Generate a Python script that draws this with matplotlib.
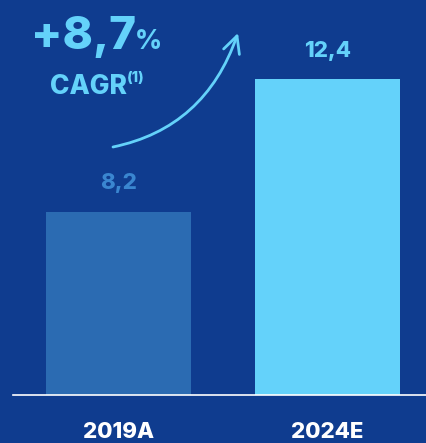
import numpy as np
import matplotlib.pyplot as plt
from matplotlib.patches import FancyArrowPatch, Path

years = ["2019A", "2024E"]
values = [8.2, 12.4]
value_labels = ["8,2", "12,4"]
cagr_label = "+8,7"

BG = "#0f3c8f"
bar_colors = ["#2b6bb2", "#64d2fa"]
label_colors = ["#3a86d0", "#64d2fa"]

plt.rcParams["font.family"] = ["Inter", "DejaVu Sans"]

W, H = 427, 443
fig = plt.figure(figsize=(W / 100, H / 100), dpi=100, facecolor=BG)
ax = fig.add_axes([0, 48 / H, 1, 1 - 48 / H])
ax.set_facecolor(BG)

x = np.arange(len(years))
ax.bar(x, values, width=0.694, color=bar_colors, bottom=0)
ax.set_xlim(-0.567, 1.476)
ax.set_ylim(2.4, 14.9)
ax.axis("off")

# baseline
ax.axhline(2.4, xmin=13 / W, xmax=1, color="white", lw=1.2, clip_on=False)

for xi, v, lab, c in zip(x, values, value_labels, label_colors):
    ax.text(xi, v + 0.9, lab, ha="center", va="center", color=c,
            fontsize=16, fontweight="heavy")

for xi, yr in zip(x, years):
    ax.text(xi, 2.4 - 37 / 31.6, yr, ha="center", va="center", color="white",
            fontsize=16, fontweight="heavy")

# growth headline
fig.text(84 / W, 1 - 37 / H, cagr_label, ha="center", va="center",
         color="#64d2fa", fontsize=33, fontweight="heavy")
fig.text(148 / W, 1 - 42 / H, "%", ha="center", va="center",
         color="#64d2fa", fontsize=19, fontweight="heavy")
fig.text(50 / W, 1 - 94 / H, "CAGR", ha="left", va="baseline",
         color="#64d2fa", fontsize=19, fontweight="heavy")
fig.text(127 / W, 1 - 82 / H, "(1)", ha="left", va="baseline",
         color="#64d2fa", fontsize=10.5, fontweight="heavy")

# curved growth arrow
p0 = (113 / W, 1 - 147 / H)
p1 = (205 / W, 1 - 128 / H)
p2 = (238 / W, 1 - 33 / H)
path = Path([p0, p1, p2], [Path.MOVETO, Path.CURVE3, Path.CURVE3])
arrow = FancyArrowPatch(path=path, transform=fig.transFigure,
                        arrowstyle="->,head_length=12,head_width=6",
                        color="#64d2fa", lw=2)
fig.add_artist(arrow)

fig.savefig("out.png", dpi=100, facecolor=BG)
